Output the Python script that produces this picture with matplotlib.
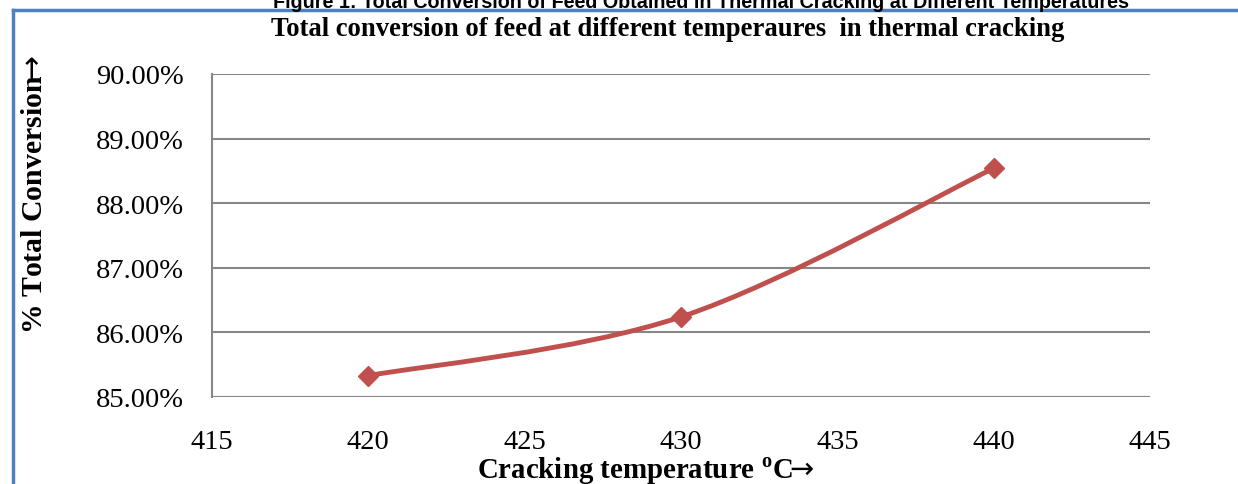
import matplotlib
matplotlib.use("Agg")
import matplotlib.pyplot as plt
from matplotlib.path import Path
from matplotlib.patches import PathPatch
from matplotlib.lines import Line2D
from matplotlib.ticker import FuncFormatter

# ---- data ----
temperatures = [420, 430, 440]
conversion = [85.33, 86.24, 88.54]
x_ticks = [415, 420, 425, 430, 435, 440, 445]
y_ticks = [85, 86, 87, 88, 89, 90]
title = "Total conversion of feed at different temperaures  in thermal cracking"
header = "Figure 1: Total Conversion of Feed Obtained in Thermal Cracking at Different Temperatures"
x_label = r"Cracking temperature $^{\mathbf{o}}$C$\!\!\mathsf{\rightarrow}$"
y_label = r"% Total Conversion$\!\!\mathsf{\rightarrow}$"

plt.rcParams['font.family'] = ['Liberation Serif', 'DejaVu Serif']
plt.rcParams['mathtext.fontset'] = 'custom'
plt.rcParams['mathtext.rm'] = 'Liberation Serif'
plt.rcParams['mathtext.bf'] = 'Liberation Serif:bold'
plt.rcParams['mathtext.sf'] = 'DejaVu Sans'

W, H = 1238, 485
fig = plt.figure(figsize=(W / 100, H / 100), dpi=100)
ax = fig.add_axes([212 / W, 1 - 398 / H, (1150 - 212) / W, (398 - 75) / H])

line_color = '#C0504D'
grid_color = '#878787'

ax.set_xlim(x_ticks[0], x_ticks[-1])
ax.set_ylim(y_ticks[0], y_ticks[-1])
ax.set_xticks(x_ticks)
ax.set_yticks(y_ticks)
ax.yaxis.set_major_formatter(FuncFormatter(lambda v, p: f"{v:.2f}%"))
ax.tick_params(axis='both', length=0, labelsize=20.5, colors='black')
ax.tick_params(axis='y', pad=20)
ax.tick_params(axis='x', pad=23)
ax.grid(axis='y', color=grid_color, linewidth=1.5)
ax.set_axisbelow(True)
for s in ['top', 'right', 'bottom']:
    ax.spines[s].set_visible(False)
ax.spines['left'].set_color(grid_color)
ax.spines['left'].set_linewidth(1.5)

# smoothed line (Bezier through data points, Excel-style smoothing)
pts = list(zip(temperatures, conversion))
verts = [pts[0]]
codes = [Path.MOVETO]
n = len(pts)
for i in range(n - 1):
    p0 = pts[max(i - 1, 0)]
    p1 = pts[i]
    p2 = pts[i + 1]
    p3 = pts[min(i + 2, n - 1)]
    c1 = (p1[0] + (p2[0] - p0[0]) / 6, p1[1] + (p2[1] - p0[1]) / 6)
    c2 = (p2[0] - (p3[0] - p1[0]) / 6, p2[1] - (p3[1] - p1[1]) / 6)
    verts += [c1, c2, p2]
    codes += [Path.CURVE4] * 3
patch = PathPatch(Path(verts, codes), facecolor='none', edgecolor=line_color,
                  linewidth=3.5, capstyle='round', joinstyle='round', zorder=3)
ax.add_patch(patch)
ax.plot(temperatures, conversion, linestyle='none', marker='D', markersize=10.5,
        color=line_color, zorder=4)

# titles and labels
fig.text(668 / W, 1 - 30 / H, title, ha='center', va='center',
         fontsize=19.2, fontweight='bold')
fig.text(701 / W, 1 - 8 / H, header, ha='center', va='baseline',
         fontsize=14.2, fontweight='bold', family=['Liberation Sans', 'DejaVu Sans'])
fig.text(35 / W, 1 - 194 / H, y_label, rotation=90, ha='center', va='center',
         fontsize=21.4, fontweight='bold')
fig.text(645 / W, 1 - 479 / H, x_label, ha='center', va='baseline',
         fontsize=20.8, fontweight='bold')

# blue frame
frame_color = '#4F81BD'
fig.add_artist(Line2D([13 / W, 13 / W], [0, 1 - 11 / H], color=frame_color,
                      linewidth=2.5, transform=fig.transFigure))
fig.add_artist(Line2D([13 / W, 1], [1 - 11 / H, 1 - 11 / H], color=frame_color,
                      linewidth=2.5, transform=fig.transFigure))

fig.savefig("out.png", dpi=100)
